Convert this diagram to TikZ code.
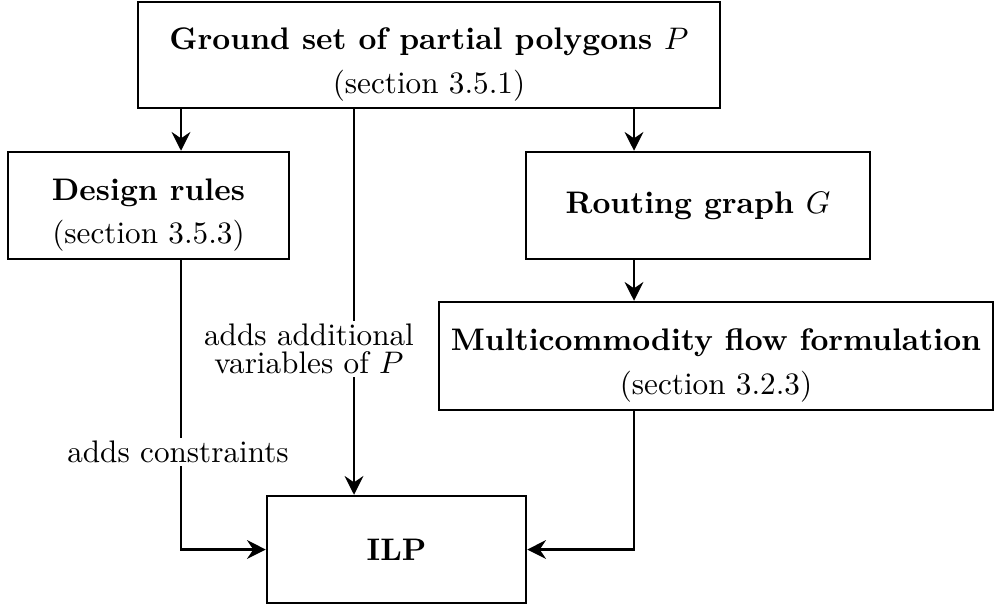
\documentclass[tikz,border=0pt]{standalone}
\usetikzlibrary{arrows.meta}
\def\pxu{0.3208pt}
% an invisible rule that lowers the two-line texts inside their boxes
\newcommand\toppad{\rule{0pt}{13pt}}
\tikzset{
  box/.style={draw, thick, align=center, inner sep=0pt},
  arr/.style={thick, -{Stealth[length=6pt,width=6pt,inset=2pt]}},
  lbl/.style={fill=white, align=center, inner sep=1pt}
}
\begin{document}
\begin{tikzpicture}[x=\pxu, y=-\pxu]
  \useasboundingbox (0,0) rectangle (996,608);

  % boxes
  \node[box, minimum width=582*\pxu, minimum height=106*\pxu] (ground) at (429,55)
    {\toppad\textbf{Ground set of partial polygons $P$}\\[2pt](section 3.5.1)};
  \node[box, minimum width=281*\pxu, minimum height=107*\pxu] (design) at (148.5,205.5)
    {\toppad\textbf{Design rules}\\[2pt](section 3.5.3)};
  \node[box, minimum width=344*\pxu, minimum height=107*\pxu] (routing) at (698,205.5)
    {\textbf{Routing graph $G$}};
  \node[box, minimum width=554*\pxu, minimum height=108*\pxu] (multi) at (716,356)
    {\toppad\textbf{Multicommodity flow formulation}\\[2pt](section 3.2.3)};
  \node[box, minimum width=259*\pxu, minimum height=107*\pxu] (ilp) at (396.5,549.5)
    {\textbf{ILP}};

  % columns of the vertical connectors
  \coordinate (xl) at (181,0);
  \coordinate (xm) at (354,0);
  \coordinate (xr) at (634,0);

  % connectors
  \draw[arr] (ground.south -| xl) -- (design.north -| xl);
  \draw[arr] (ground.south -| xr) -- (routing.north -| xr);
  \draw[arr] (routing.south -| xr) -- (multi.north -| xr);
  \draw[arr] (ground.south -| xm) -- (ilp.north -| xm);
  \draw[arr] (design.south -| xl) |- (ilp.west);
  \draw[arr] (multi.south -| xr) |- (ilp.east);

  % labels on the connectors
  \node[lbl] (lvar) at (309,349) {adds additional\\[-3pt]variables of $P$};
  \node[lbl] (lcon) at (178,452) {adds constraints};
\end{tikzpicture}
\end{document}
